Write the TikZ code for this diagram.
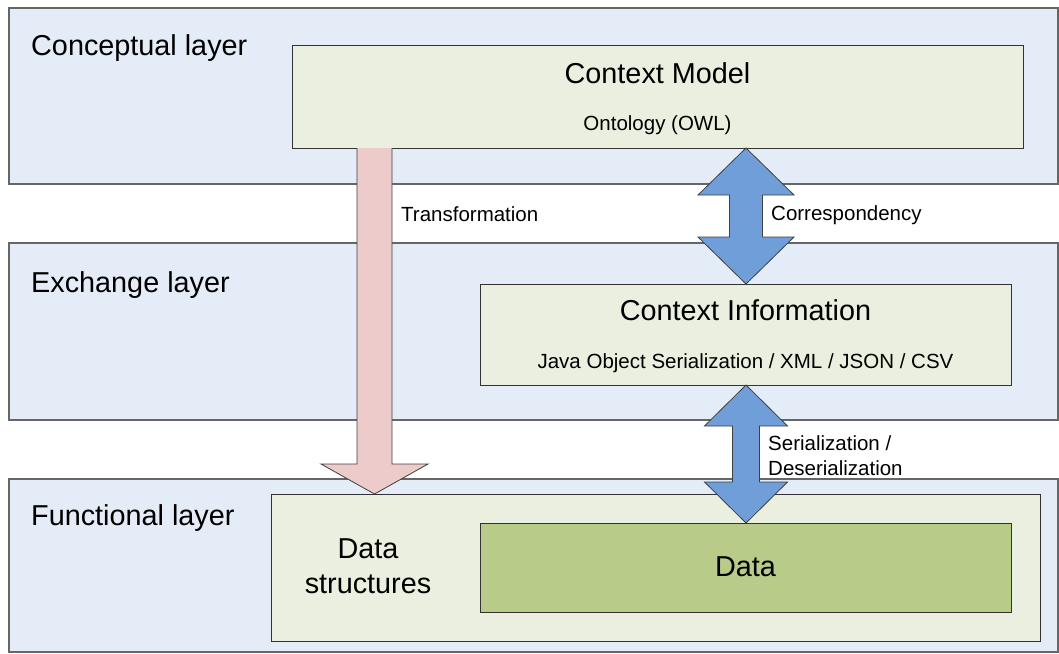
\documentclass[tikz,border=0pt]{standalone}
\usepackage{fontspec}
\setmainfont{Liberation Sans}
\usetikzlibrary{calc}
\definecolor{layerblue}{HTML}{E4ECF7}
\definecolor{paleolive}{HTML}{EBEFDF}
\definecolor{datagreen}{HTML}{B8CB89}
\definecolor{pinkarr}{HTML}{ECCBCA}
\definecolor{bluearr}{HTML}{6F9ED8}
\tikzset{
  layer/.style={draw=black!60, line width=1.2pt, fill=layerblue, anchor=north west,
                inner sep=0pt, outer sep=0pt},
  box/.style={draw=black!80, line width=0.9pt, fill=paleolive, anchor=north west,
              inner sep=0pt, outer sep=0pt},
  databox/.style={box, fill=datagreen},
  big/.style={font=\fontsize{28.8}{35}\selectfont, inner sep=0pt, anchor=base},
  small/.style={font=\fontsize{20.5}{25}\selectfont, inner sep=0pt, anchor=base},
  pinkarrow/.style={draw=black!75, line width=0.8pt, fill=pinkarr},
  bluearrow/.style={draw=black!75, line width=0.8pt, fill=bluearr},
}

\begin{document}
\begin{tikzpicture}[x=1pt, y=-1pt]
  \useasboundingbox (0,0) rectangle (1059,653);
  % layers
  \node[layer, minimum width=1049pt, minimum height=176pt] (conc) at (9,8) {};
  \node[layer, minimum width=1049pt, minimum height=177pt] (exch) at (9,243) {};
  \node[layer, minimum width=1049pt, minimum height=173pt] (func) at (9,479) {};
  % boxes
  \node[box, minimum width=731pt, minimum height=103pt] (cm) at (292,45) {};
  \node[box, minimum width=531pt, minimum height=101pt] (ci) at (480,284) {};
  \node[box, minimum width=769pt, minimum height=147pt] (ds) at (271,494) {};
  \node[databox, minimum width=531pt, minimum height=89pt] (data) at (480,523) {};

  % transformation arrow
  \coordinate (tx) at (374.5,0);
  \coordinate (ttop) at (cm.south -| tx);
  \coordinate (ttip) at (ds.north -| tx);
  \draw[pinkarrow] ($(ttop)+(-17.5,0)$) -- ($(ttip)+(-17.5,-30)$) -- ++(-36,0) -- (ttip)
    -- ++(53.5,-30) -- ++(-36,0) -- ($(ttop)+(17.5,0)$);

  % correspondency arrow
  \coordinate (cx) at (746,0);
  \coordinate (ctop) at (cm.south -| cx);
  \coordinate (cbot) at (ci.north -| cx);
  \draw[bluearrow] (ctop) -- ++(48,47) -- ++(-31.5,0) -- ($(cbot)+(16.5,-47)$) -- ++(31.5,0)
    -- (cbot) -- ++(-48,-47) -- ++(31.5,0) -- ($(ctop)+(-16.5,47)$) -- ++(-31.5,0) -- cycle;

  % serialization arrow
  \coordinate (stop) at (ci.south -| cx);
  \coordinate (sbot) at (data.north -| cx);
  \draw[bluearrow] (stop) -- ++(41.5,41) -- ++(-28,0) -- ($(sbot)+(13.5,-41)$) -- ++(28,0)
    -- (sbot) -- ++(-41.5,-41) -- ++(28,0) -- ($(stop)+(-13.5,41)$) -- ++(-28,0) -- cycle;

  % texts (base of a two-line node sits on its last line)
  \node[big, anchor=base west] (lconc) at (31,55) {Conceptual layer};
  \node[big, anchor=base west] (lexch) at (31,292) {Exchange layer};
  \node[big, anchor=base west] (lfunc) at (31,525) {Functional layer};
  \node[big] (cmtitle) at ($(cm.north)+(0,38)$) {Context Model};
  \node[small] (cmsub) at ($(cm.north)+(0,85)$) {Ontology (OWL)};
  \node[big] (cititle) at ($(ci.north)+(0,36)$) {Context Information};
  \node[small] (cisub) at ($(ci.north)+(0,84)$) {Java Object Serialization / XML / JSON / CSV};
  \node[big, align=center] (dstitle) at (368,593) {Data\\structures};
  \node[big] (datatitle) at ($(data.north)+(0,53)$) {Data};
  \node[small, anchor=base west] (ltrans) at (401,221) {Transformation};
  \node[small, anchor=base west] (lcorr) at (771,220) {Correspondency};
  \node[small, anchor=base west, align=left] (lser) at (768,475) {Serialization /\\Deserialization};
\end{tikzpicture}
\end{document}
